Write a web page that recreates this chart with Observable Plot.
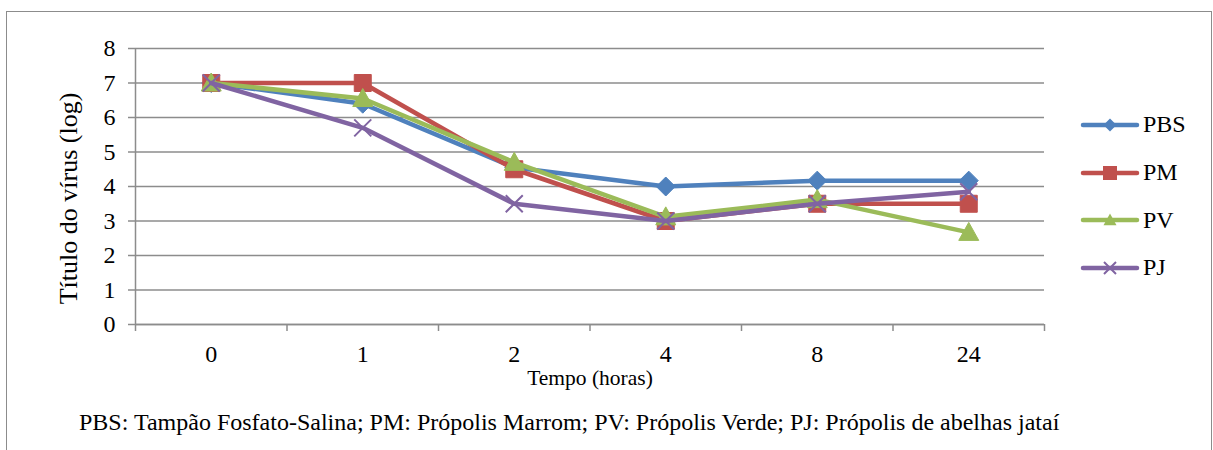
<!DOCTYPE html>
<html><head><meta charset="utf-8">
<script src="https://cdn.jsdelivr.net/npm/d3@7"></script>
<script src="https://cdn.jsdelivr.net/npm/@observablehq/plot@0.6"></script>
<style>
body{margin:0;background:#fff;}
#wrap{position:relative;width:1213px;height:450px;overflow:hidden;font-family:"Liberation Serif","Times New Roman",serif;background:#fff;}
#border{position:absolute;left:6px;top:11px;width:1206px;height:470px;border:1.5px solid #8c8c8c;box-sizing:border-box}
#chart{position:absolute;left:0;top:0}
#legend{position:absolute;left:1080px;top:101px}
.item{display:flex;align-items:center;height:47.7px;font-size:24px;color:#000}
.item svg{display:block;margin-right:3px}
#caption{position:absolute;left:79px;top:410px;font-size:24px;line-height:1;white-space:nowrap;color:#000}
</style></head>
<body>
<div id="wrap">
  <div id="border"></div>
  <div id="chart"></div>
  <div id="legend"></div>
  <div id="caption"></div>
</div>
<script>
// ---- data ----
const times = ["0", "1", "2", "4", "8", "24"];
const seriesNames = ["PBS", "PM", "PV", "PJ"];
const PBS = [7, 6.4, 4.55, 4.0, 4.17, 4.17];
const PM  = [7, 7, 4.5, 3.0, 3.5, 3.5];
const PV  = [7, 6.55, 4.7, 3.12, 3.62, 2.67];
const PJ  = [7, 5.7, 3.5, 3.0, 3.5, 3.85];
const yTicks = [0, 1, 2, 3, 4, 5, 6, 7, 8];
const colors = ["#4F81BD", "#C0504D", "#9BBB59", "#8064A2"];
const yTitle = "Título do vírus (log)";
const xTitle = "Tempo (horas)";
const captionText = "PBS: Tampão Fosfato-Salina; PM: Própolis Marrom; PV: Própolis Verde; PJ: Própolis de abelhas jataí";

const values = [PBS, PM, PV, PJ];
const rows = seriesNames.map((s, k) => values[k].map((v, i) => ({series: s, i, time: times[i], value: v})));

// custom marker shapes (Excel-like)
const diamond = {draw(c, size){const r = Math.sqrt(size/Math.PI); c.moveTo(0,-r); c.lineTo(r,0); c.lineTo(0,r); c.lineTo(-r,0); c.closePath();}};
const square = {draw(c, size){const r = Math.sqrt(size/Math.PI); c.rect(-r,-r,2*r,2*r);}};
const triangle = {draw(c, size){const r = Math.sqrt(size/Math.PI); c.moveTo(0,-r); c.lineTo(r,0.8*r); c.lineTo(-r,0.8*r); c.closePath();}};
const cross = {draw(c, size){const r = Math.sqrt(size/Math.PI); c.moveTo(-r,-r); c.lineTo(r,r); c.moveTo(r,-r); c.lineTo(-r,r);}};
const symbols = [diamond, square, triangle, cross];
const markerR = [9.5, 8.5, 10, 8.5];
const legendR = [6.5, 7, 6.5, 6];

const grey = "#8c8c8c";
const boundaries = d3.range(times.length + 1).map(i => i - 0.5);

const marks = [
  Plot.gridY({ticks: yTicks, stroke: grey, strokeOpacity: 1, strokeWidth: 1.5}),
  Plot.axisY({ticks: yTicks, tickSize: 7, tickPadding: 13, stroke: grey, strokeWidth: 1.5, fontSize: 24, label: null}),
  Plot.ruleX([-0.5], {stroke: grey, strokeWidth: 1.5}),
  Plot.ruleY([0], {stroke: grey, strokeWidth: 1.5}),
  Plot.axisX({ticks: boundaries, tickSize: 7, stroke: grey, strokeWidth: 1.5, tickFormat: () => "", label: null}),
  Plot.axisX({ticks: d3.range(times.length), tickSize: 0, tickPadding: 20, tickFormat: i => times[i], fontSize: 24, label: null}),
  Plot.text([yTitle], {frameAnchor: "left", textAnchor: "middle", lineAnchor: "middle", rotate: -90, dx: -67, dy: 12, fontSize: 26, fill: "#000"}),
  Plot.text([xTitle], {frameAnchor: "bottom", textAnchor: "middle", lineAnchor: "middle", dy: 54, fontSize: 21.5, fill: "#000"})
];
seriesNames.forEach((s, k) => {
  marks.push(Plot.line(rows[k], {x: "i", y: "value", stroke: colors[k], strokeWidth: 4.5, strokeLinejoin: "round", strokeLinecap: "round"}));
  if (symbols[k] === cross) {
    marks.push(Plot.dot(rows[k], {x: "i", y: "value", symbol: cross, r: markerR[k], stroke: colors[k], strokeWidth: 2, fill: "none"}));
  } else {
    marks.push(Plot.dot(rows[k], {x: "i", y: "value", symbol: symbols[k], r: markerR[k], fill: colors[k], stroke: colors[k], strokeWidth: 1}));
  }
});

const chart = Plot.plot({
  width: 1213,
  height: 395,
  marginLeft: 135,
  marginRight: 169,
  marginTop: 48,
  marginBottom: 71,
  x: {type: "linear", domain: [-0.5, times.length - 0.5]},
  y: {domain: [0, 8]},
  style: {fontFamily: "'Liberation Serif','Times New Roman',serif", fontSize: "24px", background: "transparent", color: "#000"},
  marks
});
document.getElementById("chart").appendChild(chart);

// legend
const legend = d3.select("#legend");
seriesNames.forEach((s, k) => {
  const item = legend.append("div").attr("class", "item");
  const svg = item.append("svg").attr("width", 60).attr("height", 24);
  svg.append("line").attr("x1", 3).attr("x2", 57).attr("y1", 12).attr("y2", 12)
    .attr("stroke", colors[k]).attr("stroke-width", 4.5).attr("stroke-linecap", "round");
  const p = d3.symbol().type(symbols[k]).size(Math.PI * legendR[k] * legendR[k])();
  const path = svg.append("path").attr("d", p).attr("transform", "translate(30,12)");
  if (symbols[k] === cross) path.attr("stroke", colors[k]).attr("stroke-width", 2).attr("fill", "none");
  else path.attr("fill", colors[k]);
  item.append("span").text(s);
});
document.getElementById("caption").textContent = captionText;
</script>
</body></html>
